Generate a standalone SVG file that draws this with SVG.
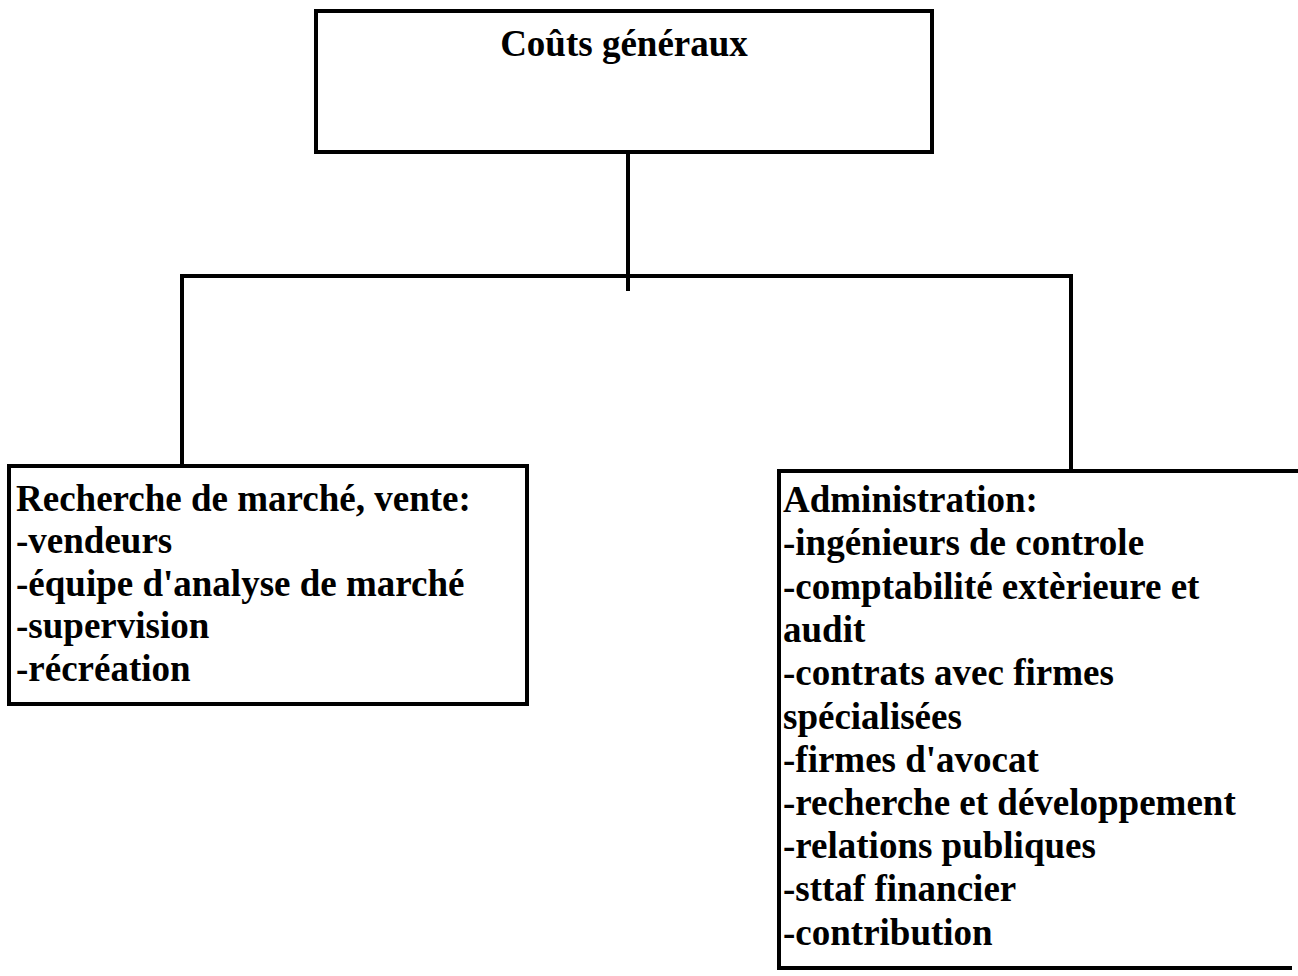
<svg xmlns="http://www.w3.org/2000/svg" width="1298" height="976" viewBox="0 0 1298 976">
  <style>
    .box { fill: none; stroke: #000; stroke-width: 4; }
    .wire { fill: none; stroke: #000; stroke-width: 4; stroke-linecap: square; }
    .txt { font-family: "Liberation Serif", "Times New Roman", serif; font-weight: bold; font-size: 37px; fill: #000; }
  </style>
  <rect x="0" y="0" width="1298" height="976" fill="#fff"/>

  <!-- tree connectors -->
  <g id="connectors">
    <path class="wire" d="M628,152 V289"/>
    <path class="wire" d="M182,276 H1071"/>
    <path class="wire" d="M182,276 V465"/>
    <path class="wire" d="M1071,276 V471"/>
  </g>

  <!-- root node -->
  <g id="node-couts-generaux">
    <rect class="box" x="316" y="11" width="616" height="141"/>
    <text class="txt" x="624" y="56" text-anchor="middle">Coûts généraux</text>
  </g>

  <!-- marketing and sales -->
  <g id="node-recherche-marche">
    <rect class="box" x="9" y="466" width="518" height="238"/>
    <text class="txt" x="16" y="511">Recherche de marché, vente:</text>
    <text class="txt" x="16" y="553">-vendeurs</text>
    <text class="txt" x="16" y="596">-équipe d'analyse de marché</text>
    <text class="txt" x="16" y="638">-supervision</text>
    <text class="txt" x="16" y="681">-récréation</text>
  </g>

  <!-- administration (open on the right edge of the page) -->
  <g id="node-administration">
    <path class="box" d="M1298,471 H779 V968 H1292"/>
    <text class="txt" x="783" y="512">Administration:</text>
    <text class="txt" x="783" y="555">-ingénieurs de controle</text>
    <text class="txt" x="783" y="599">-comptabilité extèrieure et</text>
    <text class="txt" x="783" y="642">audit</text>
    <text class="txt" x="783" y="685">-contrats avec firmes</text>
    <text class="txt" x="783" y="729">spécialisées</text>
    <text class="txt" x="783" y="772">-firmes d'avocat</text>
    <text class="txt" x="783" y="815">-recherche et développement</text>
    <text class="txt" x="783" y="858">-relations publiques</text>
    <text class="txt" x="783" y="901">-sttaf financier</text>
    <text class="txt" x="783" y="945">-contribution</text>
  </g>
</svg>
